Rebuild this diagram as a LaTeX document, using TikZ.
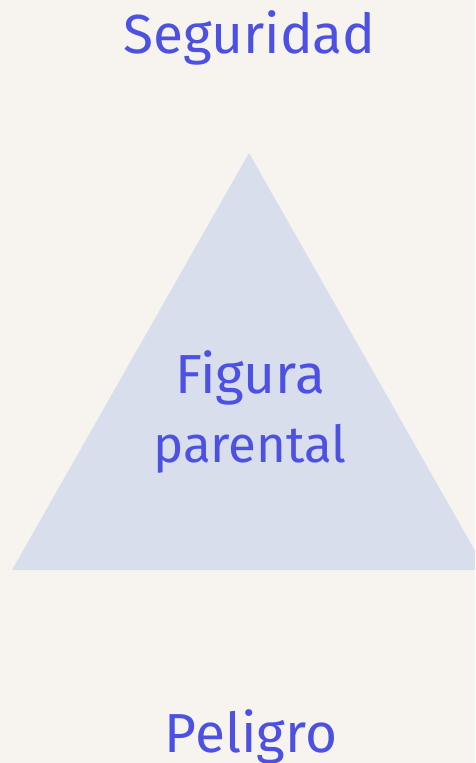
\documentclass[tikz,border=0pt]{standalone}
\usepackage{fontspec}
\setmainfont{Fira Sans}
\usetikzlibrary{positioning}
\definecolor{paper}{HTML}{F7F4EF}
\definecolor{shield}{HTML}{D8DEEC}
\definecolor{ink}{HTML}{4C51E3}
\begin{document}
\begin{tikzpicture}[x=1pt,y=-1pt,
  every node/.style={font=\fontsize{55}{60}\selectfont,text=ink,inner sep=0pt,anchor=base},
  small/.style={font=\fontsize{51}{56}\selectfont}]
\useasboundingbox (0,0) rectangle (475,763);
\fill[paper] (0,0) rectangle (475,763);
\begin{scope}
\clip (0,0) rectangle (475,763);
\coordinate (apex) at (249,153);
\coordinate (bl) at (12,570);
\coordinate (br) at (486,570);
\fill[shield] (apex) -- (bl) -- (br) -- cycle;
\end{scope}
\node (top) at (249.5,53) {Seguridad};
\node (fig) at (250,393) {Figura};
\node[small] (par) at (250,462) {parental};
\node (bot) at (251,752) {Peligro};
\end{tikzpicture}
\end{document}
